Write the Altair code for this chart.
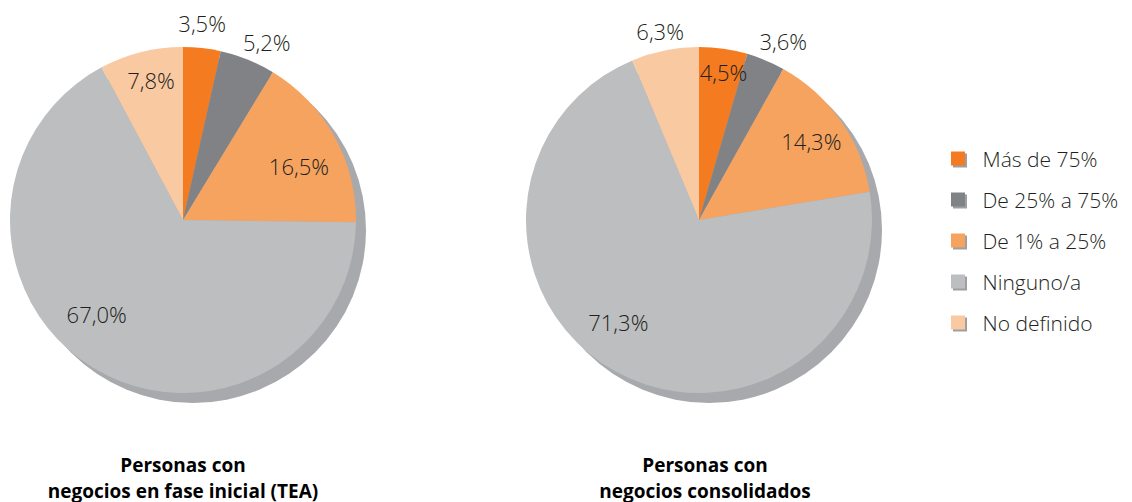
import math
import pandas as pd
import altair as alt

# ---------------- data ----------------
CATEGORIES = ["Más de 75%", "De 25% a 75%", "De 1% a 25%", "Ninguno/a", "No definido"]
TEA_VALUES = [3.5, 5.2, 16.5, 67.0, 7.8]
CONS_VALUES = [4.5, 3.6, 14.3, 71.3, 6.3]
TEA_LABELS = ["3,5%", "5,2%", "16,5%", "67,0%", "7,8%"]
CONS_LABELS = ["4,5%", "3,6%", "14,3%", "71,3%", "6,3%"]
TEA_TITLE = ["Personas con", "negocios en fase inicial (TEA)"]
CONS_TITLE = ["Personas con", "negocios consolidados"]

# ---------------- style ----------------
COLORS = ["#F47B20", "#808285", "#F6A35F", "#BCBEC0", "#F9C9A2"]
SHADOW = "#A7A9AC"
TEXT = "#231F20"
FONT = "Open Sans"
R = 173
# label placement (radius in px, angular nudge in degrees from slice middle)
TEA_LABEL_R = [196, 195, 127, 129, 142]
TEA_LABEL_NUDGE = [-0.7, 3.5, 4.9, 10.7, 1.0]
CONS_LABEL_R = [148, 196, 136, 132, 191]
CONS_LABEL_NUDGE = [1.4, 2.8, 0.8, 8.7, -0.4]


def pie(values, labels, radii, nudges, title, title_dx):
    df = pd.DataFrame({
        "category": CATEGORIES,
        "value": values,
        "order": list(range(len(CATEGORIES))),
        "label": labels,
        "lr": radii,
        "nudge": nudges,
    })
    base = alt.Chart(df)
    shadow = alt.Chart(pd.DataFrame({"k": [0]})).mark_arc(
        outerRadius=R, theta=0, theta2=2 * math.pi, xOffset=10, yOffset=10
    ).encode(color=alt.value(SHADOW))
    arcs = base.mark_arc(outerRadius=R).encode(
        theta=alt.Theta("value:Q", stack=True),
        color=alt.Color("category:N", scale=alt.Scale(domain=CATEGORIES, range=COLORS), legend=None),
        order=alt.Order("order:Q"),
    )
    text = base.transform_window(
        cum="sum(value)", sort=[alt.SortField("order")]
    ).transform_joinaggregate(
        total="sum(value)"
    ).transform_calculate(
        mid="(datum.cum - datum.value/2)/datum.total*2*PI + datum.nudge*PI/180"
    ).mark_text(font=FONT, fontSize=22, color=TEXT, fontWeight=300).encode(
        theta=alt.Theta("mid:Q", scale=None),
        radius=alt.Radius("lr:Q", scale=None),
        text="label:N",
    )
    return alt.layer(shadow, arcs, text).properties(
        width=350,
        height=424,
        title=alt.TitleParams(
            text=title, orient="bottom", anchor="middle", font=FONT, fontSize=19,
            fontWeight="bold", color="#000000", lineHeight=26, offset=25, dx=title_dx,
        ),
    )


left = pie(TEA_VALUES, TEA_LABELS, TEA_LABEL_R, TEA_LABEL_NUDGE, TEA_TITLE, 0)
right = pie(CONS_VALUES, CONS_LABELS, CONS_LABEL_R, CONS_LABEL_NUDGE, CONS_TITLE, 6)

ldf = pd.DataFrame({"category": CATEGORIES})
ly = alt.Y("category:N", sort=CATEGORIES,
           scale=alt.Scale(domain=CATEGORIES, range=[150.5, 314.5], padding=0), axis=None)
lbase = alt.Chart(ldf)
lshadow = lbase.mark_square(size=196, xOffset=2, yOffset=2, opacity=1, color="#9D9FA2").encode(y=ly)
lsq = lbase.mark_square(size=196, opacity=1).encode(
    y=ly,
    color=alt.Color("category:N", scale=alt.Scale(domain=CATEGORIES, range=COLORS), legend=None),
)
ltext = lbase.mark_text(align="left", baseline="middle", dx=24.5, dy=2, font=FONT,
                        fontSize=21, color=TEXT, fontWeight=300).encode(y=ly, text="category:N")
legend = alt.layer(lshadow, lsq, ltext).properties(width=16, height=424)

inner = alt.hconcat(right, legend, spacing=76, bounds="flush")
chart = alt.hconcat(left, inner, spacing=166, bounds="flush").properties(
    padding={"left": 0, "top": 0, "right": 0, "bottom": 0},
    background="white",
).configure_view(stroke=None).resolve_scale(color="independent")

chart.save("out.html", embed_options={"renderer": "svg", "actions": False})
